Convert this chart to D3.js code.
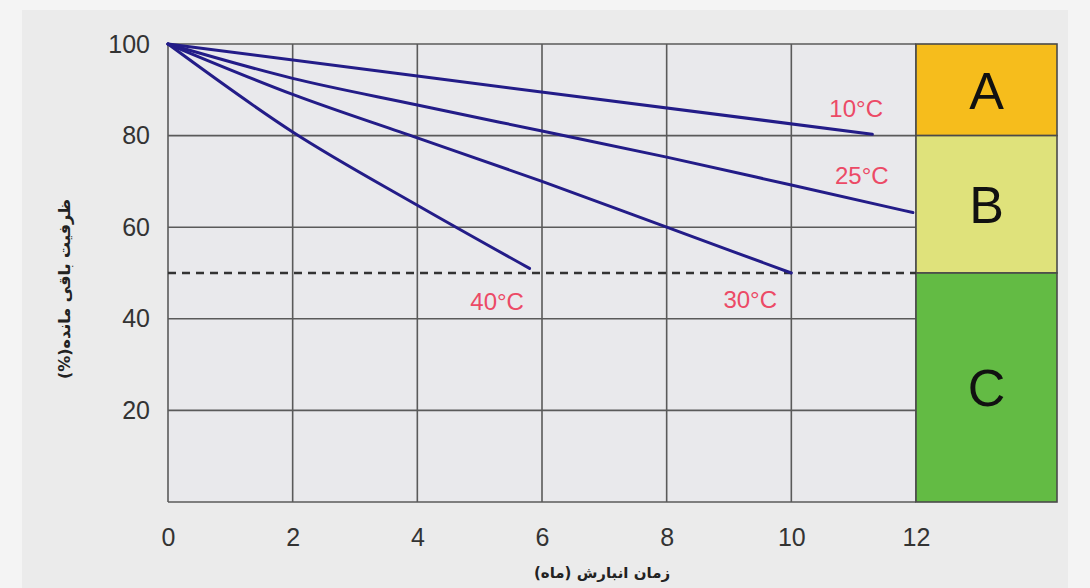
<!DOCTYPE html>
<html>
<head>
<meta charset="utf-8">
<script src="https://cdn.jsdelivr.net/npm/d3@7"></script>
<style>
  html, body { margin: 0; padding: 0; background: #f4f4f4; }
  svg { display: block; }
</style>
</head>
<body>
<svg id="chart" width="1090" height="588"></svg>
<script>
// ---- data ----
const xTicks = [0, 2, 4, 6, 8, 10, 12];
const yTicks = [20, 40, 60, 80, 100];
const seriesNames = ["10°C", "25°C", "30°C", "40°C"];
const line10 = [[0, 100], [4, 93], [11.3, 80.3]];
const line25 = [[0, 100], [2, 92.5], [4, 86.7], [6, 81], [8, 75.3], [10, 69.2], [11.95, 63.2]];
const line30 = [[0, 100], [2, 89], [4, 79.5], [6, 70], [8, 60], [10.0, 50]];
const line40 = [[0, 100], [2, 80.8], [4, 64.8], [5.8, 51]];
const thresholdValue = 50;
const zoneNames = ["A", "B", "C"];
const zoneLow = [80, 50, 0];
const zoneHigh = [100, 80, 50];
const xTitle = "زمان انبارش (ماه)";
const yTitle = "ظرفیت باقی مانده(%)";

(function () {
// ---- layout ----
const svg = d3.select("#chart");
const W = 1090, H = 588;
const pL = 168, pR = 916, pT = 44, pB = 502;
const zoneRight = 1057;
const sans = "'Liberation Sans', Arial, sans-serif";

svg.append("rect").attr("x", 22).attr("y", 10).attr("width", W - 44).attr("height", H - 10)
  .attr("fill", "#ebebeb");

const x = d3.scaleLinear().domain([0, 12]).range([pL, pR]);
const y = d3.scaleLinear().domain([0, 100]).range([pB, pT]);

// plot background
svg.append("rect").attr("x", pL).attr("y", pT).attr("width", pR - pL).attr("height", pB - pT)
  .attr("fill", "#e9e9ec");

// grid
const g = svg.append("g");
g.selectAll("line.v").data(xTicks).join("line")
  .attr("x1", d => x(d)).attr("x2", d => x(d)).attr("y1", pT).attr("y2", pB)
  .attr("stroke", "#5a5a5a").attr("stroke-width", 1.6);
g.selectAll("line.h").data(yTicks.concat([0])).join("line")
  .attr("x1", pL).attr("x2", pR).attr("y1", d => y(d)).attr("y2", d => y(d))
  .attr("stroke", "#5a5a5a").attr("stroke-width", 1.6);

// axis labels via d3 axes
const yAxis = svg.append("g").attr("transform", `translate(${pL},0)`)
  .call(d3.axisLeft(y).tickValues(yTicks).tickSize(0).tickPadding(18));
yAxis.select(".domain").remove();
yAxis.selectAll("text").attr("font-family", sans)
  .attr("font-size", 25).attr("fill", "#333");

const xAxis = svg.append("g").attr("transform", `translate(0,${pB})`)
  .call(d3.axisBottom(x).tickValues(xTicks).tickSize(0).tickPadding(26));
xAxis.select(".domain").remove();
xAxis.selectAll("text").attr("font-family", sans)
  .attr("font-size", 25).attr("fill", "#333");

// zones
const zones = zoneNames.map((n, i) => ({ name: n, lo: zoneLow[i], hi: zoneHigh[i] }));
const zoneColors = ["#f6bd1c", "#dfe27b", "#63bb44"];
svg.selectAll("rect.zone").data(zones).join("rect")
  .attr("x", pR).attr("width", zoneRight - pR)
  .attr("y", d => y(d.hi)).attr("height", d => y(d.lo) - y(d.hi))
  .attr("fill", (d, i) => zoneColors[i]).attr("stroke", "#4a4a4a").attr("stroke-width", 1.6);
svg.selectAll("text.zone").data(zones).join("text")
  .attr("x", (pR + zoneRight) / 2).attr("y", d => (y(d.lo) + y(d.hi)) / 2)
  .attr("dy", "0.36em").attr("text-anchor", "middle")
  .attr("font-family", sans).attr("font-size", 52)
  .attr("fill", "#111").text(d => d.name);

// threshold dashed line
svg.append("line").attr("x1", x(0)).attr("x2", x(12)).attr("y1", y(thresholdValue)).attr("y2", y(thresholdValue))
  .attr("stroke", "#333").attr("stroke-width", 2.5).attr("stroke-dasharray", "8,6");

// lines
const lineGen = d3.line().x(d => x(d[0])).y(d => y(d[1])).curve(d3.curveMonotoneX);
const allLines = [line10, line25, line30, line40];
svg.selectAll("path.series").data(allLines).join("path")
  .attr("d", lineGen).attr("fill", "none").attr("stroke", "#231c88").attr("stroke-width", 3)
  .attr("stroke-linecap", "round");

// series labels
const labelPos = [[11.04, 84.1], [11.13, 69.4], [9.34, 42.4], [5.28, 41.9]];
svg.selectAll("text.series").data(seriesNames).join("text")
  .attr("x", (d, i) => x(labelPos[i][0])).attr("y", (d, i) => y(labelPos[i][1]))
  .attr("text-anchor", "middle")
  .attr("font-family", sans).attr("font-size", 24)
  .attr("fill", "#ec4a66").text(d => d);

// axis titles
svg.append("text").attr("x", 602).attr("y", 578).attr("text-anchor", "middle")
  .attr("font-family", "'DejaVu Sans', sans-serif").attr("font-size", 15).attr("font-weight", "bold")
  .attr("fill", "#222").attr("direction", "rtl").text(xTitle);
svg.append("text").attr("transform", `translate(70,289) rotate(-90)`)
  .attr("text-anchor", "middle")
  .attr("font-family", "'DejaVu Sans', sans-serif").attr("font-size", 16).attr("font-weight", "bold")
  .attr("fill", "#222").attr("direction", "rtl").text(yTitle);
})();
</script>
</body>
</html>
